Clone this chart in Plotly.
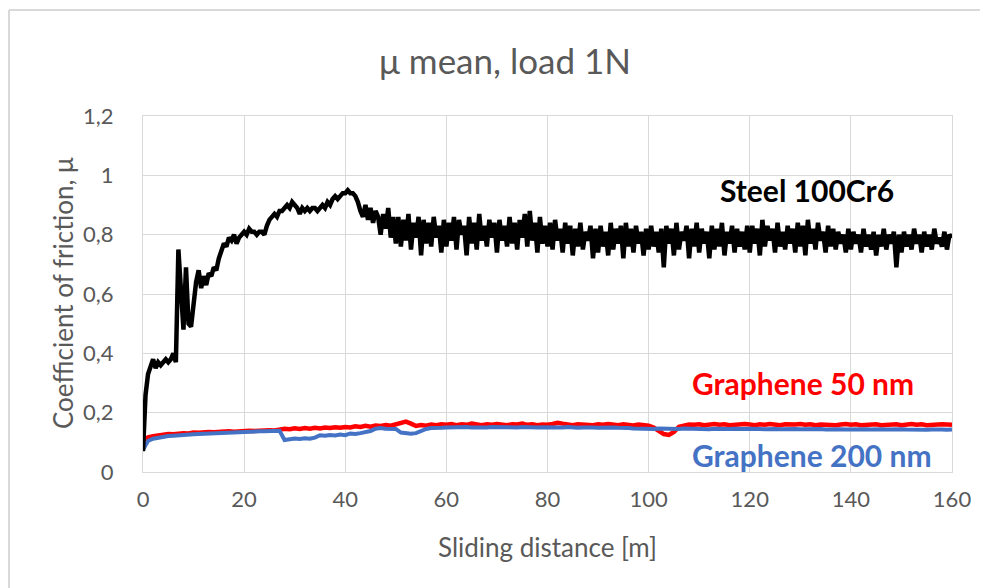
import plotly.graph_objects as go

# ---------------- data ----------------
steel_x = [i * 0.5 for i in range(321)]  # sampling grid 0..160 m, step 0.5
steel_mu = [
    0.07, 0.26, 0.33, 0.36, 0.38, 0.35, 0.37, 0.36, 0.37, 0.38, 0.37, 0.38, 0.40, 0.37, 0.75, 0.58, 0.48, 0.69, 0.50, 0.49,
    0.58, 0.64, 0.68, 0.62, 0.66, 0.63, 0.67, 0.66, 0.69, 0.68, 0.72, 0.75, 0.77, 0.76, 0.79, 0.78, 0.80, 0.77, 0.79, 0.80,
    0.81, 0.80, 0.82, 0.81, 0.81, 0.80, 0.81, 0.81, 0.80, 0.83, 0.85, 0.86, 0.87, 0.86, 0.88, 0.88, 0.89, 0.90, 0.89, 0.91,
    0.90, 0.89, 0.87, 0.89, 0.88, 0.89, 0.88, 0.89, 0.89, 0.88, 0.89, 0.90, 0.89, 0.91, 0.90, 0.92, 0.93, 0.92, 0.93, 0.94,
    0.94, 0.95, 0.94, 0.94, 0.93, 0.91, 0.88, 0.86, 0.90, 0.85, 0.89, 0.84, 0.88, 0.86, 0.80, 0.87, 0.82, 0.89, 0.79, 0.86,
    0.77, 0.86, 0.76, 0.85, 0.78, 0.87, 0.75, 0.84, 0.79, 0.86, 0.73, 0.85, 0.77, 0.84, 0.76, 0.86, 0.79, 0.83, 0.74, 0.85,
    0.76, 0.84, 0.78, 0.86, 0.75, 0.85, 0.80, 0.83, 0.73, 0.86, 0.77, 0.84, 0.75, 0.87, 0.78, 0.83, 0.76, 0.85, 0.79, 0.84,
    0.74, 0.85, 0.78, 0.83, 0.76, 0.86, 0.77, 0.84, 0.75, 0.85, 0.79, 0.87, 0.76, 0.88, 0.78, 0.84, 0.74, 0.86, 0.77, 0.83,
    0.76, 0.84, 0.75, 0.85, 0.78, 0.82, 0.74, 0.84, 0.77, 0.83, 0.73, 0.82, 0.76, 0.84, 0.75, 0.81, 0.78, 0.83, 0.72, 0.82,
    0.74, 0.83, 0.76, 0.81, 0.73, 0.84, 0.75, 0.82, 0.77, 0.83, 0.72, 0.84, 0.76, 0.82, 0.74, 0.83, 0.77, 0.81, 0.73, 0.82,
    0.75, 0.83, 0.76, 0.81, 0.74, 0.82, 0.69, 0.83, 0.77, 0.82, 0.73, 0.84, 0.75, 0.81, 0.78, 0.83, 0.72, 0.82, 0.76, 0.84,
    0.74, 0.82, 0.77, 0.81, 0.72, 0.83, 0.75, 0.82, 0.76, 0.84, 0.73, 0.81, 0.77, 0.83, 0.74, 0.82, 0.76, 0.81, 0.75, 0.83,
    0.74, 0.83, 0.77, 0.82, 0.73, 0.85, 0.76, 0.83, 0.78, 0.82, 0.74, 0.84, 0.76, 0.81, 0.75, 0.83, 0.77, 0.82, 0.74, 0.84,
    0.76, 0.83, 0.73, 0.85, 0.77, 0.82, 0.75, 0.84, 0.78, 0.81, 0.74, 0.83, 0.76, 0.82, 0.75, 0.81, 0.77, 0.80, 0.74, 0.82,
    0.75, 0.81, 0.77, 0.80, 0.74, 0.82, 0.76, 0.80, 0.75, 0.81, 0.73, 0.80, 0.76, 0.82, 0.75, 0.80, 0.77, 0.81, 0.69, 0.80,
    0.74, 0.81, 0.76, 0.80, 0.75, 0.82, 0.77, 0.80, 0.74, 0.81, 0.76, 0.80, 0.75, 0.82, 0.77, 0.79, 0.76, 0.81, 0.75, 0.80,
    0.79,
]

graphene_x = list(range(161))  # sampling grid 0..160 m, step 1
graphene50_mu = [
    0.105, 0.117, 0.121, 0.124, 0.126, 0.128, 0.127, 0.130, 0.131, 0.130,
    0.133, 0.132, 0.134, 0.135, 0.134, 0.136, 0.135, 0.137, 0.136, 0.138,
    0.137, 0.139, 0.138, 0.140, 0.139, 0.141, 0.140, 0.142, 0.146, 0.144,
    0.147, 0.145, 0.148, 0.146, 0.149, 0.147, 0.150, 0.148, 0.151, 0.149,
    0.152, 0.150, 0.154, 0.152, 0.156, 0.153, 0.157, 0.155, 0.158, 0.156,
    0.160, 0.165, 0.170, 0.163, 0.155, 0.158, 0.156, 0.160, 0.158, 0.161,
    0.159, 0.162, 0.158, 0.161, 0.159, 0.163, 0.160, 0.158, 0.161, 0.159,
    0.162, 0.160, 0.158, 0.161, 0.160, 0.163, 0.159, 0.161, 0.158, 0.160,
    0.159, 0.162, 0.166, 0.163, 0.160, 0.158, 0.161, 0.159, 0.160, 0.158,
    0.161, 0.159, 0.162, 0.160, 0.158, 0.161, 0.159, 0.157, 0.160, 0.158,
    0.156, 0.150, 0.138, 0.128, 0.125, 0.135, 0.152, 0.158, 0.160, 0.159,
    0.161, 0.158, 0.160, 0.162, 0.159, 0.161, 0.158, 0.160, 0.159, 0.162,
    0.160, 0.158, 0.161, 0.159, 0.162, 0.160, 0.158, 0.161, 0.159, 0.160,
    0.162, 0.159, 0.161, 0.158, 0.160, 0.159, 0.161, 0.158, 0.160, 0.162,
    0.159, 0.161, 0.158, 0.160, 0.159, 0.161, 0.158, 0.160, 0.159, 0.161,
    0.158, 0.160, 0.162, 0.159, 0.161, 0.158, 0.160, 0.159, 0.161, 0.160,
    0.159,
]
graphene200_mu = [
    0.075, 0.105, 0.112, 0.116, 0.119, 0.121, 0.122, 0.124, 0.125, 0.126,
    0.127, 0.128, 0.129, 0.130, 0.131, 0.131, 0.132, 0.133, 0.133, 0.134,
    0.135, 0.135, 0.136, 0.137, 0.137, 0.138, 0.138, 0.139, 0.108, 0.112,
    0.113, 0.111, 0.114, 0.112, 0.116, 0.124, 0.122, 0.125, 0.123, 0.126,
    0.124, 0.130, 0.128, 0.131, 0.134, 0.138, 0.146, 0.148, 0.146, 0.147,
    0.145, 0.133, 0.130, 0.129, 0.131, 0.138, 0.145, 0.148, 0.150, 0.149,
    0.150, 0.151, 0.149, 0.150, 0.152, 0.150, 0.149, 0.151, 0.150, 0.152,
    0.151, 0.150, 0.149, 0.151, 0.150, 0.152, 0.151, 0.149, 0.150, 0.151,
    0.150, 0.149, 0.151, 0.150, 0.152, 0.150, 0.149, 0.150, 0.151, 0.150,
    0.149, 0.150, 0.148, 0.150, 0.149, 0.147, 0.148, 0.147, 0.146, 0.147,
    0.146, 0.145, 0.147, 0.146, 0.145, 0.146, 0.145, 0.147, 0.146, 0.145,
    0.146, 0.145, 0.144, 0.146, 0.145, 0.144, 0.145, 0.146, 0.144, 0.145,
    0.146, 0.144, 0.145, 0.144, 0.146, 0.145, 0.144, 0.145, 0.143, 0.145,
    0.144, 0.145, 0.143, 0.144, 0.145, 0.143, 0.144, 0.145, 0.144, 0.143,
    0.144, 0.145, 0.143, 0.144, 0.143, 0.145, 0.144, 0.143, 0.144, 0.143,
    0.144, 0.143, 0.142, 0.144, 0.143, 0.142, 0.143, 0.144, 0.143, 0.142,
    0.143,
]

x_ticks = [0, 20, 40, 60, 80, 100, 120, 140, 160]
y_ticks = [0, 0.2, 0.4, 0.6, 0.8, 1.0, 1.2]

title_text = "μ mean, load 1N"
x_title = "Sliding distance [m]"
y_title = "Coefficient of friction, μ"
series_labels = ["Steel 100Cr6", "Graphene 50 nm", "Graphene 200 nm"]
series_colors = ["#000000", "#FF0000", "#4472C4"]

FONT = "Lato, 'Open Sans', sans-serif"
GRID = "#D9D9D9"
TXT = "#595959"

# page has an 8px body margin; figure coords = page coords - 8
OFF = 8
W, H = 980, 580
L, T = 143 - OFF, 116 - OFF
R, B = W - (952 - OFF), H - (472 - OFF)
PW, PH = W - L - R, H - T - B


def px_x(p):  # page pixel -> paper x
    return (p - OFF - L) / PW


def px_y(p):  # page pixel -> paper y
    return (H - B - (p - OFF)) / PH


fig = go.Figure()
fig.add_trace(go.Scatter(x=graphene_x, y=graphene50_mu, mode="lines",
                         line=dict(color=series_colors[1], width=4.5), name=series_labels[1]))
fig.add_trace(go.Scatter(x=graphene_x, y=graphene200_mu, mode="lines",
                         line=dict(color=series_colors[2], width=4), name=series_labels[2]))
fig.add_trace(go.Scatter(x=steel_x, y=steel_mu, mode="lines",
                         line=dict(color=series_colors[0], width=4.5), name=series_labels[0]))

fig.update_layout(
    width=W, height=H,
    margin=dict(l=L, r=R, t=T, b=B),
    paper_bgcolor="white", plot_bgcolor="white",
    showlegend=False,
    separators=",.",
    font=dict(family=FONT, color=TXT),
    title=dict(text=title_text, x=(505 - OFF) / W, xref="container", xanchor="center",
               y=1 - (62 - OFF) / H, yref="container", yanchor="middle",
               font=dict(size=35, color=TXT, family=FONT)),
)
fig.update_xaxes(range=[0, 160], tickvals=x_ticks, showgrid=True, gridcolor=GRID, gridwidth=1,
                 zeroline=False, showline=True, linecolor=GRID, mirror=True,
                 ticks="", ticklabelstandoff=8, tickfont=dict(size=22, color=TXT, family=FONT))
fig.update_yaxes(range=[0, 1.2], tickvals=y_ticks, showgrid=True, gridcolor=GRID, gridwidth=1,
                 zeroline=False, showline=True, linecolor=GRID, mirror=True,
                 ticks="", ticklabelstandoff=24, tickfont=dict(size=22, color=TXT, family=FONT))

# axis titles
fig.add_annotation(text=x_title, xref="paper", yref="paper", x=px_x(547), y=px_y(547),
                   showarrow=False, xanchor="center", yanchor="middle",
                   font=dict(size=26, color=TXT, family=FONT))
fig.add_annotation(text=y_title, xref="paper", yref="paper", x=px_x(63), y=px_y(293),
                   showarrow=False, xanchor="center", yanchor="middle", textangle=-90,
                   font=dict(size=26, color=TXT, family=FONT))

# series labels
fig.add_annotation(text="<b>%s</b>" % series_labels[0], xref="paper", yref="paper",
                   x=px_x(718), y=px_y(190), showarrow=False, xanchor="left", yanchor="middle",
                   font=dict(size=30, color=series_colors[0], family=FONT))
fig.add_annotation(text="<b>%s</b>" % series_labels[1], xref="paper", yref="paper",
                   x=px_x(690), y=px_y(383), showarrow=False, xanchor="left", yanchor="middle",
                   font=dict(size=30, color=series_colors[1], family=FONT))
fig.add_annotation(text="<b>%s</b>" % series_labels[2], xref="paper", yref="paper",
                   x=px_x(690), y=px_y(455), showarrow=False, xanchor="left", yanchor="middle",
                   font=dict(size=30, color=series_colors[2], family=FONT))

# outer chart frame (only top and left edges are visible in the reference)
fig.add_shape(type="line", xref="paper", yref="paper",
              x0=px_x(9), x1=px_x(1010), y0=px_y(10), y1=px_y(10),
              line=dict(color=GRID, width=2), layer="below")
fig.add_shape(type="line", xref="paper", yref="paper",
              x0=px_x(9), x1=px_x(9), y0=px_y(10), y1=px_y(620),
              line=dict(color=GRID, width=2), layer="below")

fig.write_html("out.html")
